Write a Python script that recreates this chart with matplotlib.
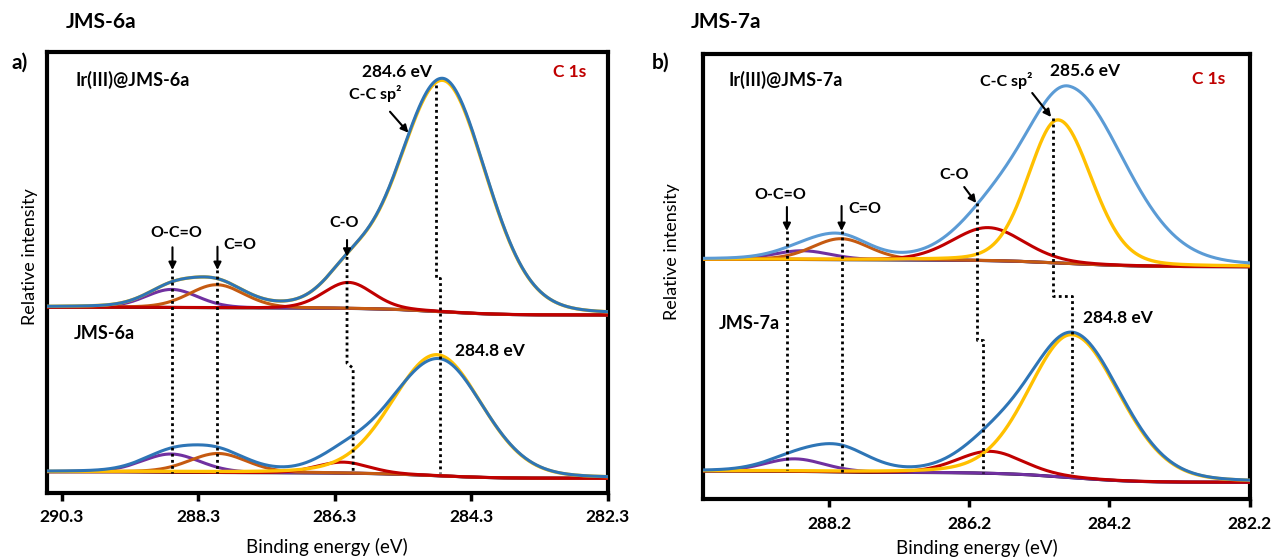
import numpy as np
import matplotlib.pyplot as plt

plt.rcParams['font.family'] = ['Lato', 'DejaVu Sans']

# component order: C-C sp2, C-O, C=O, O-C=O
comp_names = ['C-C sp²', 'C-O', 'C=O', 'O-C=O']
comp_colors = ['#FFC000', '#C00000', '#C55A11', '#7030A0']

# ---- a) Ir(III)@JMS-6a (upper trace) ----
a_top_centre = [284.72, 286.10, 288.03, 288.69]
a_top_height = [231, 26, 23, 18]
a_top_fwhm_hi = [1.55, 0.85, 0.95, 0.9]   # high binding energy side
a_top_fwhm_lo = [1.50, 0.85, 0.95, 0.9]   # low binding energy side
a_top_env_main = [284.72, 233, 1.55, 1.50]  # centre, height, fwhm hi, fwhm lo
a_top_bg = [185.5, 177.7]                  # background at high / low BE end

# ---- a) JMS-6a (lower trace) ----
a_bot_centre = [284.80, 286.18, 288.01, 288.70]
a_bot_height = [121, 11, 19, 18]
a_bot_fwhm_hi = [1.55, 0.9, 1.0, 1.0]
a_bot_fwhm_lo = [1.55, 0.9, 1.0, 1.0]
a_bot_env_main = [284.78, 117, 1.70, 1.55]
a_bot_bg = [21.0, 14.4]

# ---- b) Ir(III)@JMS-7a (upper trace) ----
b_top_centre = [284.93, 285.93, 288.03, 288.58]
b_top_height = [143, 33, 21, 8.7]
b_top_fwhm_hi = [1.00, 1.2, 0.95, 0.95]
b_top_fwhm_lo = [1.12, 1.2, 0.95, 0.95]
b_top_env_main = [284.78, 174, 1.50, 1.85]
b_top_bg = [239.7, 232.3]

# ---- b) JMS-7a (lower trace) ----
b_bot_centre = [284.73, 285.90, 288.05, 288.69]
b_bot_height = [143, 22, 22, 12.5]
b_bot_fwhm_hi = [1.45, 1.1, 1.0, 1.0]
b_bot_fwhm_lo = [1.60, 1.1, 1.0, 1.0]
b_bot_env_main = [284.72, 144, 1.50, 1.60]
b_bot_bg = [28.0, 16.7]

# which components are drawn (C=O of JMS-7a only sits in the envelope)
a_top_drawn = [True, True, True, True]
a_bot_drawn = [True, True, True, True]
b_top_drawn = [True, True, True, True]
b_bot_drawn = [True, True, False, True]

# marker lines: BE on the upper and on the lower trace for each assignment
a_marks_top = [284.81, 286.12, 288.02, 288.68]
a_marks_bot = [284.75, 286.03, 288.02, 288.68]
b_marks_top = [285.00, 286.09, 288.02, 288.80]
b_marks_bot = [284.73, 286.00, 288.02, 288.80]

MIX = 0.15  # Lorentzian fraction of the GL line shape


def peak(be, c, h, w_hi, w_lo):
  w = np.where(be > c, w_hi, w_lo)
  u = (be - c) / w
  return h * ((1 - MIX) * np.exp(-4 * np.log(2) * u**2) + MIX / (1 + 4 * u**2))


def draw_trace(ax, be, centre, height, f_hi, f_lo, env_main, bg, drawn,
               env_color, yellow_total=False):
  comps = [peak(be, centre[i], height[i], f_hi[i], f_lo[i]) for i in range(4)]
  env = peak(be, *env_main) + comps[1] + comps[2] + comps[3]
  # Shirley type step background: grows towards high binding energy
  cum = np.cumsum(env)
  cum = cum / cum[-1]
  base = bg[1] + (bg[0] - bg[1]) * cum
  ax.plot(be, base, color='black', lw=2.2, zorder=2)
  for i in [3, 2, 1]:
    if drawn[i]:
      ax.plot(be, base + comps[i], color=comp_colors[i], lw=2.2, zorder=3)
  if yellow_total:
    yel = comps[0] + comps[1] + comps[2] + comps[3]
  else:
    yel = comps[0]
  ax.plot(be, base + yel, color=comp_colors[0], lw=2.4, zorder=4)
  ax.plot(be, base + env, color=env_color, lw=2.2, zorder=5)


def dotted(ax, xs, ys):
  ax.plot(xs, ys, color='black', lw=2.0, linestyle=(0, (1, 1.2)), zorder=6)


def arrow(ax, x0, y0, x1, y1):
  ax.annotate('', xy=(x1, y1), xytext=(x0, y0),
              arrowprops=dict(arrowstyle='-|>', color='black', lw=1.5,
                              mutation_scale=11, shrinkA=0, shrinkB=0),
              zorder=7)


fig = plt.figure(figsize=(12.72, 5.6), dpi=100)
W, H = 1272, 560
ax1 = fig.add_axes([47 / W, 1 - 492.7 / H, 560.5 / W, 440.7 / H])
ax2 = fig.add_axes([702.8 / W, 1 - 499 / H, 546.7 / W, 444.7 / H])

ax1.set_xlim(290.52, 282.3)
ax1.set_ylim(0, 440.7)
ax2.set_xlim(290.0, 282.2)
ax2.set_ylim(0, 444.7)

be1 = np.linspace(282.3, 290.52, 900)
be2 = np.linspace(282.2, 290.0, 900)

draw_trace(ax1, be1, a_top_centre, a_top_height, a_top_fwhm_hi, a_top_fwhm_lo,
           a_top_env_main, a_top_bg, a_top_drawn, '#2E75B6', yellow_total=True)
draw_trace(ax1, be1, a_bot_centre, a_bot_height, a_bot_fwhm_hi, a_bot_fwhm_lo,
           a_bot_env_main, a_bot_bg, a_bot_drawn, '#2E75B6')
draw_trace(ax2, be2, b_top_centre, b_top_height, b_top_fwhm_hi, b_top_fwhm_lo,
           b_top_env_main, b_top_bg, b_top_drawn, '#5B9BD5')
draw_trace(ax2, be2, b_bot_centre, b_bot_height, b_bot_fwhm_hi, b_bot_fwhm_lo,
           b_bot_env_main, b_bot_bg, b_bot_drawn, '#2E75B6')

# ---- marker lines, panel a ----
dotted(ax1, [a_marks_top[3]] * 2, [222.7, 19.7])
dotted(ax1, [a_marks_top[2]] * 2, [222.7, 19.7])
dotted(ax1, [a_marks_top[1], a_marks_top[1], a_marks_bot[1], a_marks_bot[1]],
       [235.7, 129.4, 124.4, 20.7])
dotted(ax1, [a_marks_top[0], a_marks_top[0], a_marks_bot[0], a_marks_bot[0]],
       [407.7, 214.4, 214.4, 19.7])

# ---- marker lines, panel b ----
dotted(ax2, [b_marks_top[3]] * 2, [268, 29])
dotted(ax2, [b_marks_top[2]] * 2, [268, 27])
dotted(ax2, [b_marks_top[1], b_marks_top[1], b_marks_bot[1], b_marks_bot[1]],
       [296, 159, 159, 26])
dotted(ax2, [b_marks_top[0], b_marks_top[0], b_marks_bot[0], b_marks_bot[0]],
       [381, 203, 203, 26])

fs_lab = 11.5
fs_name = 13
# ---- annotations panel a ----
ax1.text(290.10, 412.7, 'Ir(III)@JMS-6a', fontsize=fs_name, fontweight='bold', ha='left', va='center')
ax1.text(282.86, 420.7, 'C 1s', fontsize=12.5, fontweight='bold', color='#C00000', ha='center', va='center')
ax1.text(285.39, 421.0, '284.6 eV', fontsize=12.5, fontweight='bold', ha='center', va='center')
ax1.text(285.70, 399.4, 'C-C sp²', fontsize=fs_lab, fontweight='bold', ha='center', va='center')
arrow(ax1, 285.49, 381, 285.22, 360)
ax1.text(288.62, 259.4, 'O-C=O', fontsize=fs_lab, fontweight='bold', ha='center', va='center')
arrow(ax1, a_marks_top[3], 245.4, a_marks_top[3], 222.7)
ax1.text(287.69, 247.7, 'C=O', fontsize=fs_lab, fontweight='bold', ha='center', va='center')
arrow(ax1, a_marks_top[2], 246.0, a_marks_top[2], 222.7)
ax1.text(286.16, 269.4, 'C-O', fontsize=fs_lab, fontweight='bold', ha='center', va='center')
arrow(ax1, a_marks_top[1], 252.7, a_marks_top[1], 236)
ax1.text(290.13, 159.4, 'JMS-6a', fontsize=fs_name, fontweight='bold', ha='left', va='center')
ax1.text(284.53, 142.0, '284.8 eV', fontsize=12.5, fontweight='bold', ha='left', va='center')

# ---- annotations panel b ----
ax2.text(289.63, 419, 'Ir(III)@JMS-7a', fontsize=fs_name, fontweight='bold', ha='left', va='center')
ax2.text(282.79, 420, 'C 1s', fontsize=12.5, fontweight='bold', color='#C00000', ha='center', va='center')
ax2.text(284.55, 428, '285.6 eV', fontsize=12.5, fontweight='bold', ha='center', va='center')
ax2.text(285.67, 419, 'C-C sp²', fontsize=fs_lab, fontweight='bold', ha='center', va='center')
arrow(ax2, 285.30, 406, 285.03, 382)
ax2.text(286.42, 324, 'C-O', fontsize=fs_lab, fontweight='bold', ha='center', va='center')
arrow(ax2, 286.27, 312, 286.10, 296)
ax2.text(288.90, 304, 'O-C=O', fontsize=fs_lab, fontweight='bold', ha='center', va='center')
arrow(ax2, b_marks_top[3], 292, b_marks_top[3], 268)
ax2.text(287.92, 290, 'C=O', fontsize=fs_lab, fontweight='bold', ha='left', va='center')
arrow(ax2, b_marks_top[2], 293, b_marks_top[2], 268)
ax2.text(289.77, 176, 'JMS-7a', fontsize=fs_name, fontweight='bold', ha='left', va='center')
ax2.text(284.58, 181, '284.8 eV', fontsize=12.5, fontweight='bold', ha='left', va='center')

# ---- axes styling ----
for ax, ticks in [(ax1, [290.3, 288.3, 286.3, 284.3, 282.3]),
                  (ax2, [288.2, 286.2, 284.2, 282.2])]:
  ax.set_xticks(ticks)
  ax.set_xticklabels(['%.1f' % t for t in ticks], fontsize=12.5, fontweight='bold')
  ax.set_yticks([])
  ax.tick_params(axis='x', direction='out', length=6, width=2.5, pad=6)
  for s in ax.spines.values():
    s.set_linewidth(3)

# ---- figure level labels ----
fig.text(65.6 / W, 1 - 21.7 / H, 'JMS-6a', fontsize=15, fontweight='bold', ha='left', va='center')
fig.text(690.6 / W, 1 - 22 / H, 'JMS-7a', fontsize=15, fontweight='bold', ha='left', va='center')
fig.text(12 / W, 1 - 63 / H, 'a)', fontsize=15, fontweight='bold', ha='left', va='center')
fig.text(652 / W, 1 - 63 / H, 'b)', fontsize=15, fontweight='bold', ha='left', va='center')
fig.text(327 / W, 1 - 546.7 / H, 'Binding energy (eV)', fontsize=13.5, ha='center', va='center')
fig.text(977 / W, 1 - 548 / H, 'Binding energy (eV)', fontsize=13.5, ha='center', va='center')
fig.text(30 / W, 1 - 256.5 / H, 'Relative intensity', fontsize=13, rotation=90, ha='center', va='center')
fig.text(672 / W, 1 - 252 / H, 'Relative intensity', fontsize=13, rotation=90, ha='center', va='center')

fig.savefig('out.png', dpi=100)
